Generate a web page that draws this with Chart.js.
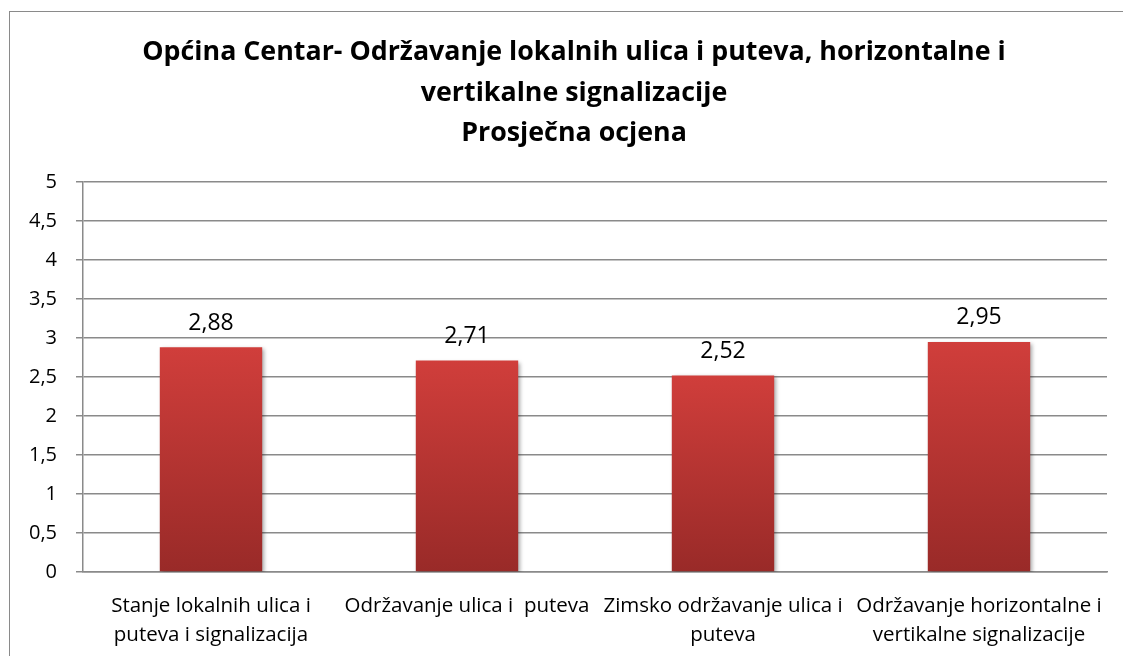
<!DOCTYPE html>
<html>
<head>
<meta charset="utf-8">
<script src="https://cdn.jsdelivr.net/npm/chart.js@4/dist/chart.umd.min.js"></script>
<style>
    html, body { margin: 0; padding: 0; background: #fff; }
    .graph { position: relative; width: 1123px; height: 656px; overflow: hidden; }
    .frame { position: absolute; left: 9px; top: 11px; width: 1200px; height: 700px; border: 1px solid #8a8a8a; box-sizing: border-box; }
    canvas { position: absolute; left: 0; top: 0; }
</style>
</head>
<body>
<div class="graph">
    <div class="frame"></div>
    <canvas id="chart" width="1123" height="656"></canvas>
</div>
<script>
let categories = [
    ["Stanje lokalnih ulica i", "puteva i signalizacija"],
    ["Održavanje ulica i  puteva"],
    ["Zimsko održavanje ulica i", "puteva"],
    ["Održavanje horizontalne i", "vertikalne signalizacije"]
];
let values = [2.88, 2.71, 2.52, 2.95];
let titleLines = [
    "Općina Centar- Održavanje lokalnih ulica i puteva, horizontalne i",
    "vertikalne signalizacije",
    "Prosječna ocjena"
];
let yMin = 0, yMax = 5, yStep = 0.5;

const FONT = "'Open Sans', sans-serif";

function fmt(v) {
    return String(v).replace(".", ",");
}

// red gradient per bar, from its top down to zero
function barColor(ctx) {
    let chart = ctx.chart;
    if (!chart.chartArea || !chart.scales.y) return "#b83532";
    let y = chart.scales.y;
    let top = y.getPixelForValue(values[ctx.dataIndex]);
    let bottom = y.getPixelForValue(0);
    let g = chart.ctx.createLinearGradient(0, top, 0, bottom);
    g.addColorStop(0, "#d03e3b");
    g.addColorStop(1, "#992a28");
    return g;
}

const barShadow = {
    id: "barShadow",
    beforeDatasetsDraw(chart) {
        let c = chart.ctx;
        c.save();
        c.shadowColor = "rgba(0,0,0,0.35)";
        c.shadowBlur = 4;
        c.shadowOffsetX = 2;
        c.shadowOffsetY = 2;
    },
    afterDatasetsDraw(chart) {
        chart.ctx.restore();
    }
};

const valueLabels = {
    id: "valueLabels",
    afterDatasetsDraw(chart) {
        let c = chart.ctx;
        let meta = chart.getDatasetMeta(0);
        c.save();
        c.font = "23px " + FONT;
        c.fillStyle = "#000";
        c.textAlign = "center";
        c.textBaseline = "middle";
        meta.data.forEach((bar, i) => {
            c.fillText(fmt(values[i]), bar.x, bar.y - 24);
        });
        c.restore();
    }
};

// title is drawn by hand, the built-in one can't be shifted off-centre
const chartTitle = {
    id: "chartTitle",
    afterDraw(chart) {
        let c = chart.ctx;
        c.save();
        c.font = "bold 26.8px " + FONT;
        c.fillStyle = "#000";
        c.textAlign = "center";
        c.textBaseline = "alphabetic";
        titleLines.forEach((line, i) => {
            c.fillText(line, 574, 60 + i * 40.5);
        });
        c.restore();
    }
};

let chart = new Chart(document.getElementById("chart"), {
    type: "bar",
    data: {
        labels: categories,
        datasets: [{
            data: values,
            backgroundColor: barColor,
            borderWidth: 0,
            categoryPercentage: 1,
            barPercentage: 0.40,
        }]
    },
    options: {
        responsive: false,
        animation: false,
        layout: {
            padding: { left: 20, right: 16, top: 182, bottom: 0 }
        },
        plugins: {
            legend: { display: false },
            tooltip: { enabled: false },
            title: { display: false }
        },
        scales: {
            y: {
                min: yMin,
                max: yMax,
                ticks: {
                    stepSize: yStep,
                    color: "#000",
                    padding: 19,
                    font: { family: FONT, size: 20 },
                    callback: v => fmt(v)
                },
                grid: { color: "#8a8a8a", tickLength: 7, lineWidth: 1.5 },
                border: { color: "#8a8a8a", width: 1.5 },
                afterFit(scale) { scale.width = 63; }
            },
            x: {
                ticks: {
                    color: "#000",
                    padding: 12,
                    maxRotation: 0,
                    autoSkip: false,
                    font: { family: FONT, size: 20.5, lineHeight: "29px" }
                },
                grid: { display: false },
                border: { color: "#8a8a8a", width: 1.5 },
                afterFit(scale) { scale.height = 84; }
            }
        }
    },
    plugins: [barShadow, valueLabels, chartTitle]
});
</script>
</body>
</html>
